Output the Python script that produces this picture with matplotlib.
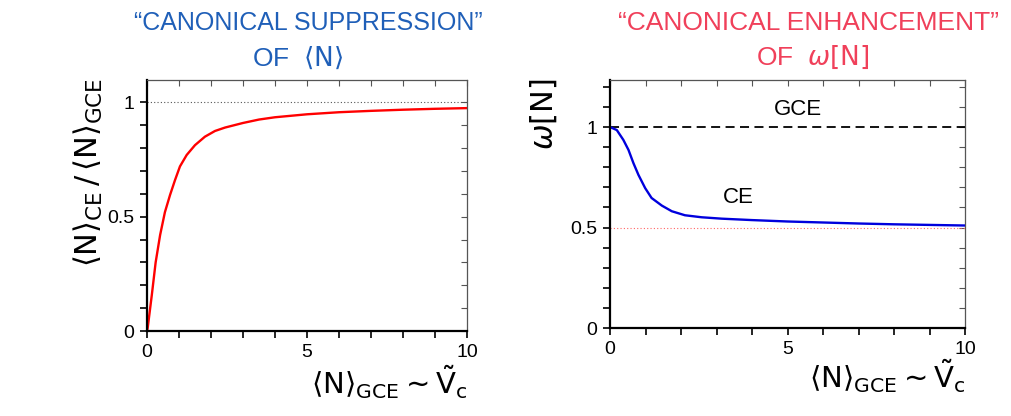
import matplotlib
matplotlib.use("Agg")
import matplotlib.pyplot as plt
import numpy as np

# values
x_ratio = [0, 0.02, 0.15, 0.27, 0.41, 0.56, 0.72, 0.875, 1.03, 1.24, 1.5, 1.81,
           2.125, 2.44, 3.0, 3.5, 4.0, 5.0, 6.0, 7.0, 8.0, 9.0, 10.0]
ratio = [0, 0.012, 0.157, 0.30, 0.42, 0.52, 0.595, 0.66, 0.72, 0.77, 0.813, 0.85,
         0.875, 0.89, 0.91, 0.925, 0.935, 0.948, 0.957, 0.963, 0.968, 0.972, 0.975]

x_omega = [0, 0.19, 0.375, 0.52, 0.66, 0.80, 0.99, 1.17, 1.46, 1.74, 2.11, 2.58,
           3.15, 4.0, 5.0, 6.0, 7.0, 8.0, 9.0, 10.0]
omega = [1.0, 0.985, 0.936, 0.886, 0.82, 0.762, 0.696, 0.647, 0.609, 0.581, 0.561, 0.551,
         0.544, 0.537, 0.53, 0.525, 0.52, 0.516, 0.513, 0.51]

gce_level = 1.0
limit_level = 0.5

plt.rcParams["font.family"] = ["Liberation Sans", "DejaVu Sans"]
plt.rcParams["mathtext.fontset"] = "dejavusans"

fig = plt.figure(figsize=(10.11, 4.16), dpi=100)
ax1 = fig.add_axes([0.1454, 0.2043, 0.3165, 0.6034])
ax2 = fig.add_axes([0.6034, 0.2115, 0.3511, 0.5962])


def style_axes(ax, ytop):
    ax.set_xlim(0, 10)
    ax.set_ylim(0, ytop)
    ax.set_xticks([0, 5, 10])
    ax.set_xticks(np.arange(0, 11, 1), minor=True)
    ax.set_yticks([0, 0.5, 1])
    ax.set_yticklabels(["0", "0.5", "1"])
    ax.set_yticks(np.arange(0, ytop, 0.1), minor=True)
    ax.tick_params(which="both", direction="out", length=5, width=1.2,
                   labelsize=14, pad=4)
    for side in ["left", "bottom"]:
        ax.spines[side].set_linewidth(1.6)
    for side in ["right", "top"]:
        ax.spines[side].set_linewidth(0.8)
        ax.spines[side].set_color("#555555")
    top = ax.secondary_xaxis("top")
    top.set_xticks(np.arange(0, 11, 1))
    top.tick_params(direction="in", length=4, width=0.8, labeltop=False, colors="#555555")
    right = ax.secondary_yaxis("right")
    right.set_yticks(np.arange(0, ytop, 0.1))
    right.tick_params(direction="in", length=4, width=0.8, labelright=False, colors="#555555")


xlab = r"$\langle\mathrm{N}\rangle_{\mathrm{GCE}}\sim\tilde{\mathrm{V}}_{\mathrm{c}}$"

style_axes(ax1, 1.098)
ax1.axhline(gce_level, color="#555555", lw=0.8, ls=(0, (1, 2)))
ax1.plot(x_ratio, ratio, color="#ff0000", lw=1.7)
ax1.set_ylabel(r"$\langle\mathrm{N}\rangle_{\mathrm{CE}}\,/\,\langle\mathrm{N}\rangle_{\mathrm{GCE}}$",
               fontsize=22, labelpad=2, y=0.63)
ax1.set_xlabel(xlab, fontsize=21, loc="right", labelpad=2)

style_axes(ax2, 1.234)
ax2.axhline(gce_level, color="black", lw=1.3, ls=(0, (5, 3)))
ax2.axhline(limit_level, color="#ff6666", lw=0.8, ls=(0, (1, 2)))
ax2.plot(x_omega, omega, color="#0000dd", lw=1.7)
ax2.text(5.3, 1.085, "GCE", fontsize=16, ha="center", va="center")
ax2.text(3.6, 0.65, "CE", fontsize=16, ha="center", va="center")
ax2.set_ylabel(r"$\omega[\mathrm{N}]$", fontsize=22, y=0.86, labelpad=8)
ax2.set_xlabel(xlab, fontsize=21, loc="right", labelpad=0)

blue = "#1f5fb8"
pink = "#f0405a"
fig.text(0.305, 0.945, "\u201cCANONICAL SUPPRESSION\u201d", color=blue, fontsize=18,
         ha="center", va="center")
fig.text(0.294, 0.862, r"OF  $\langle\mathrm{N}\rangle$", color=blue, fontsize=19,
         ha="center", va="center")
fig.text(0.800, 0.945, "\u201cCANONICAL ENHANCEMENT\u201d", color=pink, fontsize=19,
         ha="center", va="center")
fig.text(0.804, 0.862, r"OF  $\omega[\mathrm{N}]$", color=pink, fontsize=19,
         ha="center", va="center")

fig.savefig("out.png", dpi=100)
